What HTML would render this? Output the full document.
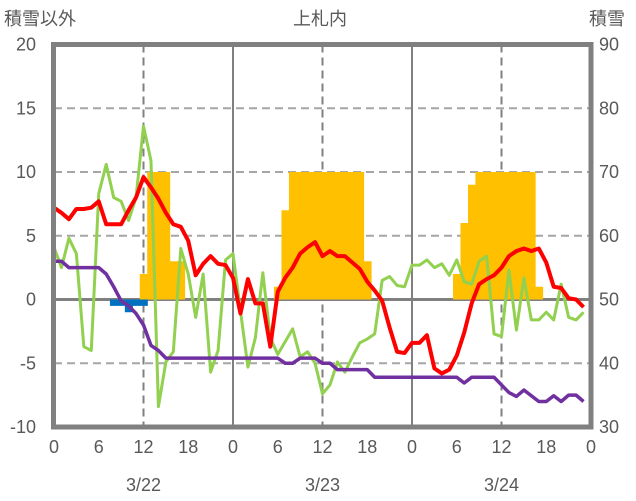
<!DOCTYPE html>
<html><head><meta charset="utf-8"><style>
html,body{margin:0;padding:0;background:#fff;width:636px;height:501px;overflow:hidden}
svg text{font-family:"Liberation Sans","Noto Sans CJK JP",sans-serif;fill:#595959;font-size:18px}
</style></head><body>
<svg id="chart" width="636" height="501" xmlns="http://www.w3.org/2000/svg">
<g id="grid"></g>
<g id="bars"></g>
<g id="lines"></g>
<rect x="53.5" y="44.5" width="537.5" height="382.5" fill="none" stroke="#808080" stroke-width="5"/>
<g id="axes"></g>
<text x="4" y="25">積雪以外</text>
<text x="320" y="25" text-anchor="middle">上札内</text>
<text x="589" y="25">積雪</text>
</svg>
<script>
const yTicks=[20,15,10,5,0,-5,-10];
const rTicks=[90,80,70,60,50,40,30];
const xTickLabels=[0,6,12,18,0,6,12,18,0,6,12,18,0];
const dayLabels=["3/22","3/23","3/24"];
const redTemp=[7.2,6.8,6.3,7.1,7.1,7.2,7.7,5.9,5.9,5.9,7.0,8.0,9.6,8.8,7.9,6.8,5.9,5.7,4.6,1.9,2.8,3.4,2.8,2.7,
1.7,-1.1,1.6,-0.3,-0.3,-3.7,0.6,1.7,2.5,3.6,4.1,4.5,3.4,3.8,3.4,3.4,2.9,2.4,1.4,0.7,-0.1,-2.2,-4.1,-4.2,
-3.4,-3.4,-2.8,-5.4,-5.8,-5.5,-4.4,-2.6,-0.3,1.2,1.6,1.9,2.5,3.4,3.8,4.0,3.8,4.0,2.9,1.0,0.9,0.1,0.0,-0.6];
const greenSeries=[4.1,2.5,4.8,3.6,-3.7,-4.0,8.3,10.6,8.0,7.7,6.2,8.0,13.6,10.9,-8.4,-4.9,-4.1,4.0,2.0,-1.4,2.0,-5.7,-4.0,3.1,
3.6,-0.9,-5.3,-3.0,2.1,-3.0,-4.3,-3.3,-2.3,-4.5,-4.1,-5.0,-7.4,-6.7,-4.9,-5.7,-4.5,-3.4,-3.1,-2.7,1.5,1.8,1.1,1.0,
2.7,2.7,3.1,2.5,2.8,1.9,3.1,1.4,1.2,3.0,3.4,-2.7,-2.9,2.3,-2.4,1.7,-1.6,-1.6,-1.0,-1.6,1.2,-1.4,-1.6,-1.0];
const purpleSeries=[3.0,3.0,2.5,2.5,2.5,2.5,2.5,2.0,1.0,-0.1,-0.5,-1.1,-2.0,-3.6,-4.0,-4.6,-4.6,-4.6,-4.6,-4.6,-4.6,-4.6,-4.6,-4.6,
-4.6,-4.6,-4.6,-4.6,-4.6,-4.6,-4.6,-5.0,-5.0,-4.6,-4.6,-4.6,-5.0,-5.0,-5.5,-5.5,-5.5,-5.5,-5.5,-6.1,-6.1,-6.1,-6.1,-6.1,
-6.1,-6.1,-6.1,-6.1,-6.1,-6.1,-6.1,-6.55,-6.1,-6.1,-6.1,-6.1,-6.7,-7.3,-7.6,-7.1,-7.55,-8.0,-8.0,-7.55,-8.0,-7.5,-7.5,-8.0];
const orangeHours=[12,13,14,15,16,17,30,31,32,33,34,35,36,37,38,39,40,41,42,54,55,56,57,58,59,60,61,62,63,64,65];
const orangeVals=[2,10,10,10,3,3,1,7,10,10,10,10,10,10,10,10,10,10,3,2,6,9,10,10,10,10,10,10,10,10,1];
const blueHours=[8,9,10,11,12];
const blueVals=[-0.5,-0.5,-1,-0.5,-0.5];

const X0=54,X1=591,Y0=44.5,Y1=427;
const xs=h=>X0+h*(X1-X0)/72;
const ys=v=>Y0+(20-v)*(Y1-Y0)/30;
const NS="http://www.w3.org/2000/svg";
function mk(tag,parent,attrs){const e=document.createElementNS(NS,tag);for(const k in attrs)e.setAttribute(k,attrs[k]);parent.appendChild(e);return e;}
const grid=document.getElementById('grid'),bars=document.getElementById('bars'),lines=document.getElementById('lines'),axes=document.getElementById('axes');
yTicks.forEach((t,i)=>{
  if(t!==20&&t!==-10){
    const l=mk('line',grid,{x1:X0,x2:X1,y1:ys(t),y2:ys(t),stroke:t===0?'#808080':'#a6a6a6','stroke-width':t===0?3:2,'stroke-dasharray':t===0?'':'8,5'});
    
    
  }
  const tx=mk('text',axes,{x:36,y:ys(t)+6,'text-anchor':'end'});tx.textContent=t;
  
  
  const rt=mk('text',axes,{x:599,y:ys(t)+6});rt.textContent=rTicks[i];
  
  
});
for(let d=0;d<3;d++){
  const x=xs(d*24+12);
  const l=mk('line',grid,{x1:x,x2:x,y1:Y0,y2:Y1,stroke:'#808080','stroke-width':2,'stroke-dasharray':'8,5'});
  
  
  if(d>0){const m=mk('line',grid,{x1:xs(d*24),x2:xs(d*24),y1:Y0,y2:Y1,stroke:'#808080','stroke-width':2});
  
  }
  const dl=mk('text',axes,{x:xs(d*24+12),y:491,'text-anchor':'middle'});dl.textContent=dayLabels[d];
  
  
}
xTickLabels.forEach((t,i)=>{
  const tx=mk('text',axes,{x:xs(i*6),y:453,'text-anchor':'middle'});tx.textContent=t;
  
  
});
const bw=(X1-X0)/72;
orangeHours.forEach((h,i)=>{
  const r=mk('rect',bars,{x:xs(h)-bw/2,y:ys(orangeVals[i]),width:bw+0.6,height:ys(0)-ys(orangeVals[i]),fill:'#ffc000'});
  
  
});
blueHours.forEach((h,i)=>{
  const r=mk('rect',bars,{x:xs(h)-bw/2,y:ys(0),width:bw+0.6,height:ys(blueVals[i])-ys(0),fill:'#0070c0'});
  
  
});
function line(data,color,w,name){
  const p=mk('polyline',lines,{points:data.map((v,i)=>xs(i)+','+ys(v)).join(' '),fill:'none',stroke:color,'stroke-width':w,'stroke-linejoin':'round'});
  
  
}
line(greenSeries,'#92d050',3,'green-series-line');
line(purpleSeries,'#7030a0',3.5,'purple-series-line');
line(redTemp,'#ff0000',4,'temperature-line');
</script>
</body></html>
